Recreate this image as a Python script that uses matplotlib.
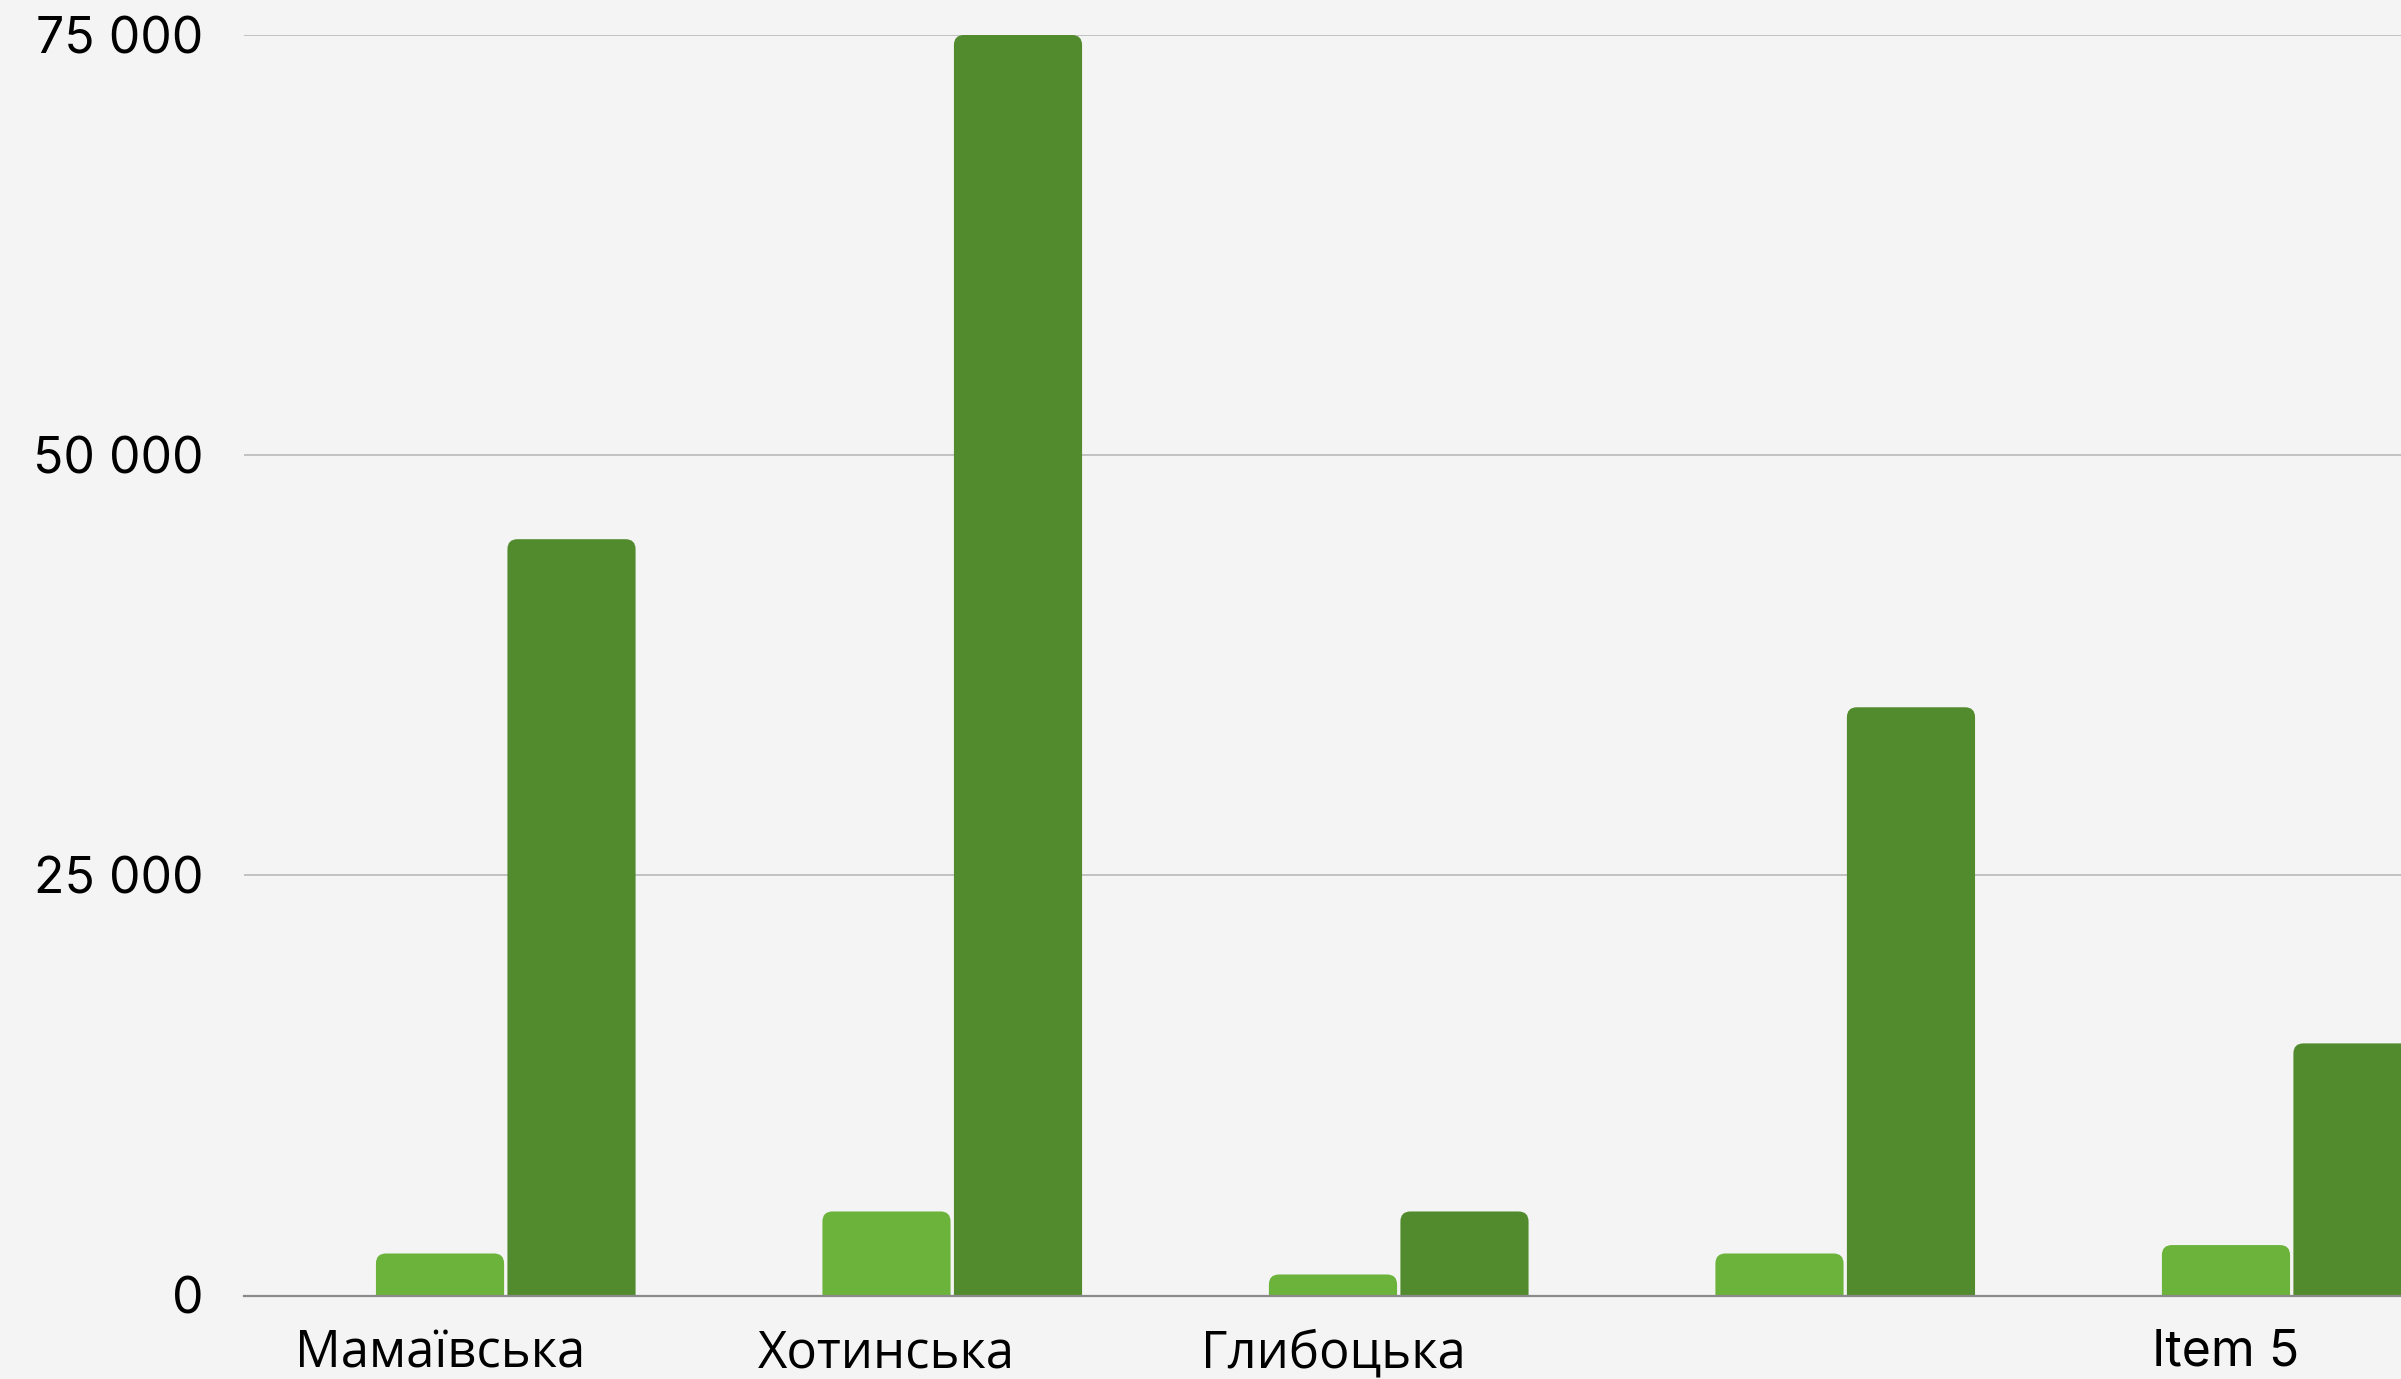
import matplotlib
matplotlib.use('Agg')
import matplotlib.pyplot as plt
from matplotlib.patches import FancyBboxPatch
import numpy as np

# дані
categories = ['Мамаївська', 'Хотинська', 'Глибоцька', '', 'Item 5']
series_light = [2500, 5000, 1250, 2500, 3000]
series_dark = [45000, 75000, 5000, 35000, 15000]
y_ticks = [0, 25000, 50000, 75000]
y_tick_labels = ['0', '25 000', '50 000', '75 000']

bg = '#f4f4f4'
light_color = '#6bb33a'
dark_color = '#528b2e'

W, H = 2401, 1379
fig = plt.figure(figsize=(W / 100, H / 100), dpi=100, facecolor=bg)
ax = fig.add_axes([244 / W, (H - 1295.5) / H, 1 - 244 / W, (1295.5 - 35) / H])
ax.set_facecolor(bg)

x = np.arange(len(categories))
bar_w = 0.287
offset = 0.2945
bars_l = ax.bar(x, series_light, width=bar_w, color=light_color)
bars_d = ax.bar(x + offset, series_dark, width=bar_w, color=dark_color)

ax.set_xlim(-0.439, 4.392)
ax.set_ylim(0, 75000)

# скруглені верхні кути
px_x = 1 / 446.5          # одиниці x на піксель
px_y = 75000 / 1260.5     # одиниці y на піксель
r = 10 * px_x
for bars in (bars_l, bars_d):
    for b in bars:
        b.set_visible(False)
        p = FancyBboxPatch((b.get_x(), b.get_y() - 12 * px_y), b.get_width(), b.get_height() + 12 * px_y,
                           boxstyle=f'round,pad=0,rounding_size={r}',
                           mutation_aspect=px_y / px_x,
                           facecolor=b.get_facecolor(), edgecolor='none', zorder=2)
        ax.add_patch(p)

ax.set_yticks(y_ticks)
ax.set_yticklabels(y_tick_labels, fontsize=36, family=['Inter', 'DejaVu Sans'])
ax.yaxis.grid(True, color='#bdbdbd', linewidth=1.3)
ax.set_axisbelow(True)
ax.tick_params(axis='y', length=0, pad=29)

ax.set_xticks(x)
ax.set_xticklabels(categories)
ax.tick_params(axis='x', length=0, pad=24)
for lbl in ax.get_xticklabels():
    if lbl.get_text().startswith('Item'):
        lbl.set_fontfamily(['Inter', 'DejaVu Sans'])
        lbl.set_fontsize(36)
    else:
        lbl.set_fontfamily(['Open Sans', 'DejaVu Sans'])
        lbl.set_fontsize(36.5)

for s in ['top', 'right', 'left']:
    ax.spines[s].set_visible(False)
ax.spines['bottom'].set_color('#8a8a8a')
ax.spines['bottom'].set_linewidth(1.6)
ax.spines['bottom'].set_zorder(5)

fig.savefig('out.png', dpi=100, facecolor=bg)
